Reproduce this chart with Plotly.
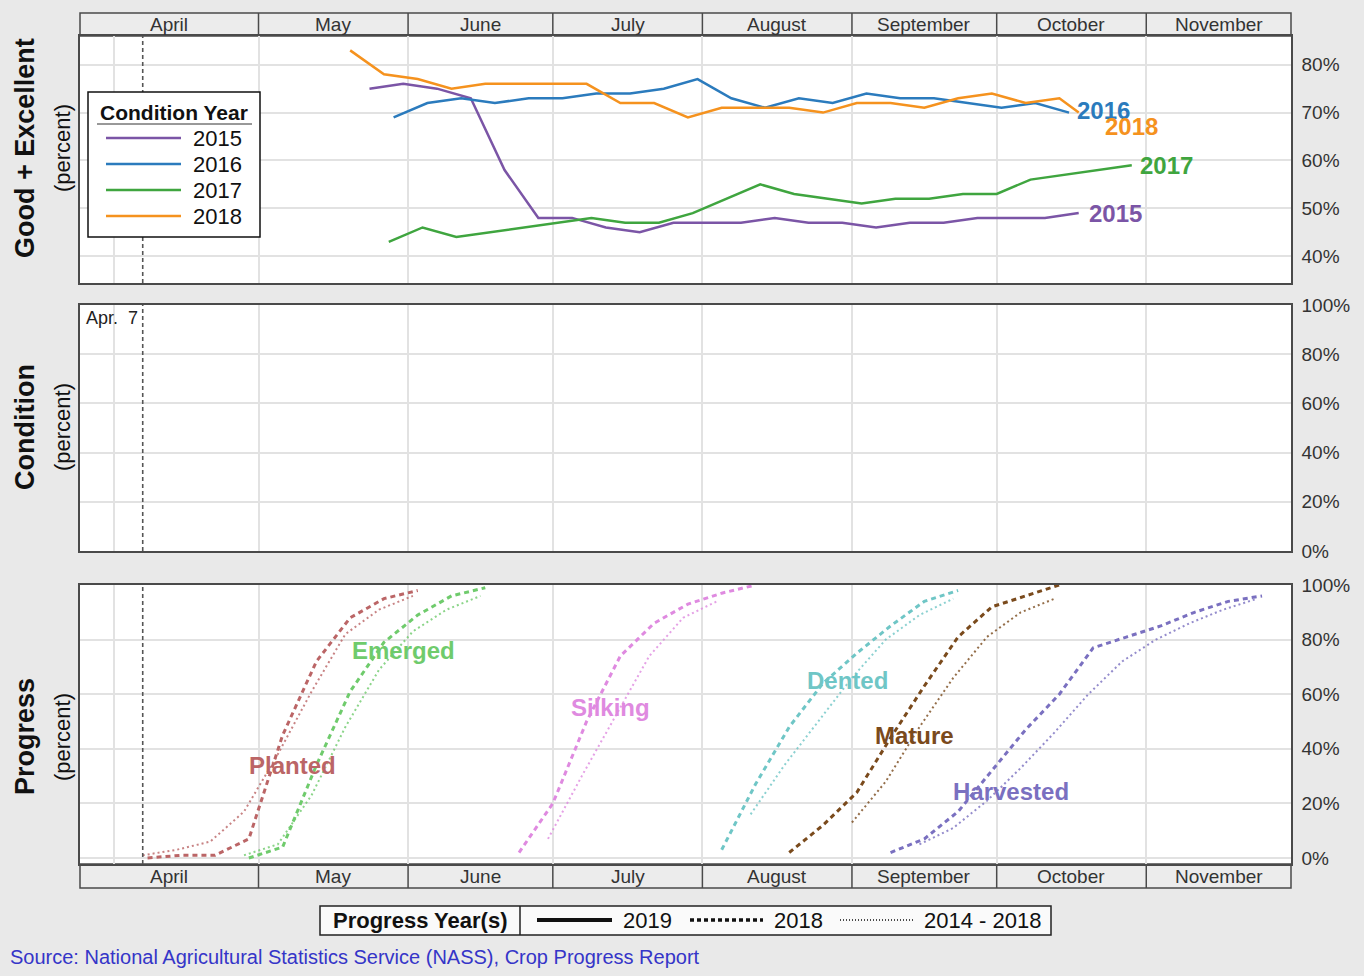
import pandas as pd
import plotly.graph_objects as go

W, H = 1364, 976
FONT = "Liberation Sans, Arial, sans-serif"

# ---------------- axis / calendar data ----------------
X_RANGE = ["2019-03-25", "2019-12-01"]
MONTH_STARTS = ["2019-04-01", "2019-05-01", "2019-06-01", "2019-07-01", "2019-08-01",
                "2019-09-01", "2019-10-01", "2019-11-01", "2019-12-01"]
MONTH_NAMES = ["April", "May", "June", "July", "August", "September", "October", "November"]
CURRENT_WEEK = "2019-04-07"
TOP_TICKS = [40, 50, 60, 70, 80]
PCT_TICKS = [0, 20, 40, 60, 80, 100]

# ---------------- condition data (good + excellent, %) ----------------
cond_2015_dates = ["2019-05-24", "2019-05-31", "2019-06-07", "2019-06-14", "2019-06-21", "2019-06-28",
                   "2019-07-05", "2019-07-12", "2019-07-19", "2019-07-26", "2019-08-02", "2019-08-09",
                   "2019-08-16", "2019-08-23", "2019-08-30", "2019-09-06", "2019-09-13", "2019-09-20",
                   "2019-09-27", "2019-10-04", "2019-10-11", "2019-10-18"]
cond_2015_vals = [75, 76, 75, 73, 58, 48, 48, 46, 45, 47, 47, 47, 48, 47, 47, 46, 47, 47, 48, 48, 48, 49]

cond_2016_dates = ["2019-05-29", "2019-06-05", "2019-06-12", "2019-06-19", "2019-06-26", "2019-07-03",
                   "2019-07-10", "2019-07-17", "2019-07-24", "2019-07-31", "2019-08-07", "2019-08-14",
                   "2019-08-21", "2019-08-28", "2019-09-04", "2019-09-11", "2019-09-18", "2019-09-25",
                   "2019-10-02", "2019-10-09", "2019-10-16"]
cond_2016_vals = [69, 72, 73, 72, 73, 73, 74, 74, 75, 77, 73, 71, 73, 72, 74, 73, 73, 72, 71, 72, 70]

cond_2017_dates = ["2019-05-28", "2019-06-04", "2019-06-11", "2019-06-18", "2019-06-25", "2019-07-02",
                   "2019-07-09", "2019-07-16", "2019-07-23", "2019-07-30", "2019-08-06", "2019-08-13",
                   "2019-08-20", "2019-08-27", "2019-09-03", "2019-09-10", "2019-09-17", "2019-09-24",
                   "2019-10-01", "2019-10-08", "2019-10-15", "2019-10-22", "2019-10-29"]
cond_2017_vals = [43, 46, 44, 45, 46, 47, 48, 47, 47, 49, 52, 55, 53, 52, 51, 52, 52, 53, 53, 56, 57, 58, 59]

cond_2018_dates = ["2019-05-20", "2019-05-27", "2019-06-03", "2019-06-10", "2019-06-17", "2019-06-24",
                   "2019-07-01", "2019-07-08", "2019-07-15", "2019-07-22", "2019-07-29", "2019-08-05",
                   "2019-08-12", "2019-08-19", "2019-08-26", "2019-09-02", "2019-09-09", "2019-09-16",
                   "2019-09-23", "2019-09-30", "2019-10-07", "2019-10-14", "2019-10-18"]
cond_2018_vals = [83, 78, 77, 75, 76, 76, 76, 76, 72, 72, 69, 71, 71, 71, 70, 72, 72, 71, 73, 74, 72, 73, 70]

COND_YEARS = ["2015", "2016", "2017", "2018"]
COND_COLORS = {"2015": "#7b55a6", "2016": "#2b7bbd", "2017": "#3fa53f", "2018": "#f5921e"}

# ---------------- progress data (%) ----------------
planted_2018_dates = ["2019-04-08", "2019-04-15", "2019-04-22", "2019-04-29", "2019-05-06", "2019-05-13",
                      "2019-05-20", "2019-05-27", "2019-06-03"]
planted_2018_vals = [0, 1, 1, 7, 45, 72, 88, 95, 98]
planted_avg_dates = ["2019-04-07", "2019-04-14", "2019-04-21", "2019-04-28", "2019-05-05", "2019-05-12",
                     "2019-05-19", "2019-05-26", "2019-06-02"]
planted_avg_vals = [1, 3, 6, 17, 38, 61, 82, 91, 96]

emerged_2018_dates = ["2019-04-29", "2019-05-06", "2019-05-13", "2019-05-20", "2019-05-27", "2019-06-03",
                      "2019-06-10", "2019-06-17"]
emerged_2018_vals = [0, 4, 34, 61, 79, 89, 96, 99]
emerged_avg_dates = ["2019-04-28", "2019-05-05", "2019-05-12", "2019-05-19", "2019-05-26", "2019-06-02",
                     "2019-06-09", "2019-06-16"]
emerged_avg_vals = [1, 5, 23, 48, 69, 83, 91, 96]

silking_2018_dates = ["2019-06-24", "2019-07-01", "2019-07-08", "2019-07-15", "2019-07-22", "2019-07-29",
                      "2019-08-05", "2019-08-12"]
silking_2018_vals = [2, 20, 50, 74, 86, 93, 97, 100]
silking_avg_dates = ["2019-06-30", "2019-07-07", "2019-07-14", "2019-07-21", "2019-07-28", "2019-08-04"]
silking_avg_vals = [7, 30, 52, 74, 88, 94]

dented_2018_dates = ["2019-08-05", "2019-08-12", "2019-08-19", "2019-08-26", "2019-09-02", "2019-09-09",
                     "2019-09-16", "2019-09-23"]
dented_2018_vals = [3, 27, 48, 64, 75, 85, 94, 98]
dented_avg_dates = ["2019-08-11", "2019-08-18", "2019-08-25", "2019-09-01", "2019-09-08", "2019-09-15",
                    "2019-09-22"]
dented_avg_vals = [16, 34, 50, 66, 80, 89, 95]

mature_2018_dates = ["2019-08-19", "2019-08-26", "2019-09-02", "2019-09-09", "2019-09-16", "2019-09-23",
                     "2019-09-30", "2019-10-07", "2019-10-14"]
mature_2018_vals = [2, 12, 24, 44, 63, 81, 92, 96, 100]
mature_avg_dates = ["2019-09-01", "2019-09-08", "2019-09-15", "2019-09-22", "2019-09-29", "2019-10-06",
                    "2019-10-13"]
mature_avg_vals = [13, 28, 48, 66, 81, 90, 95]

harvested_2018_dates = ["2019-09-09", "2019-09-16", "2019-09-23", "2019-09-30", "2019-10-07", "2019-10-14",
                        "2019-10-21", "2019-10-28", "2019-11-04", "2019-11-11", "2019-11-18", "2019-11-25"]
harvested_2018_vals = [2, 7, 17, 32, 47, 60, 77, 81, 85, 90, 94, 96]
harvested_avg_dates = ["2019-09-15", "2019-09-22", "2019-09-29", "2019-10-06", "2019-10-13", "2019-10-20",
                       "2019-10-27", "2019-11-03", "2019-11-10", "2019-11-17", "2019-11-24"]
harvested_avg_vals = [5, 11, 21, 33, 46, 60, 72, 80, 86, 91, 95]

STAGES = ["Planted", "Emerged", "Silking", "Dented", "Mature", "Harvested"]
STAGE_COLORS = {"Planted": "#bb6566", "Emerged": "#6fcb6c", "Silking": "#df8ae0",
                "Dented": "#6fc6c6", "Mature": "#7a4a1c", "Harvested": "#7a70c0"}
STAGE_2018 = {"Planted": (planted_2018_dates, planted_2018_vals),
              "Emerged": (emerged_2018_dates, emerged_2018_vals),
              "Silking": (silking_2018_dates, silking_2018_vals),
              "Dented": (dented_2018_dates, dented_2018_vals),
              "Mature": (mature_2018_dates, mature_2018_vals),
              "Harvested": (harvested_2018_dates, harvested_2018_vals)}
STAGE_AVG = {"Planted": (planted_avg_dates, planted_avg_vals),
             "Emerged": (emerged_avg_dates, emerged_avg_vals),
             "Silking": (silking_avg_dates, silking_avg_vals),
             "Dented": (dented_avg_dates, dented_avg_vals),
             "Mature": (mature_avg_dates, mature_avg_vals),
             "Harvested": (harvested_avg_dates, harvested_avg_vals)}
# label anchor (date, percent) for each stage name
STAGE_LABEL_POS = {"Planted": ("2019-05-08", 34), "Emerged": ("2019-05-31", 76),
                   "Silking": ("2019-07-13", 55), "Dented": ("2019-08-31", 65),
                   "Mature": ("2019-09-14", 45), "Harvested": ("2019-10-04", 24.5)}


def px(x):
    return x / W


def py(y):
    return 1 - y / H


fig = go.Figure()

# condition traces
cond_data = {"2015": (cond_2015_dates, cond_2015_vals), "2016": (cond_2016_dates, cond_2016_vals),
             "2017": (cond_2017_dates, cond_2017_vals), "2018": (cond_2018_dates, cond_2018_vals)}
for yr in COND_YEARS:
    d, v = cond_data[yr]
    fig.add_trace(go.Scatter(x=d, y=v, mode="lines", name=yr, showlegend=False,
                             line=dict(color=COND_COLORS[yr], width=2.5),
                             xaxis="x", yaxis="y"))

# empty middle panel
fig.add_trace(go.Scatter(x=[], y=[], mode="lines", showlegend=False, xaxis="x2", yaxis="y2"))

# progress traces
for st in STAGES:
    d, v = STAGE_AVG[st]
    fig.add_trace(go.Scatter(x=d, y=v, mode="lines", name=st + " 2014-2018", showlegend=False,
                             line=dict(color=STAGE_COLORS[st], width=2, dash="2px,3px"),
                             opacity=0.8, xaxis="x3", yaxis="y3"))
    d, v = STAGE_2018[st]
    fig.add_trace(go.Scatter(x=d, y=v, mode="lines", name=st + " 2018", showlegend=False,
                             line=dict(color=STAGE_COLORS[st], width=3, dash="5px,4px"),
                             xaxis="x3", yaxis="y3"))

GRID = "#e2e2e2"
BORDER = "#4a4a4a"
xcommon = dict(type="date", range=X_RANGE, tickvals=MONTH_STARTS[:-1], showticklabels=False,
               showgrid=True, gridcolor=GRID, gridwidth=1.5, showline=True, linecolor=BORDER,
               linewidth=1.5, mirror=True, zeroline=False, ticks="", domain=[px(80), px(1291)])
ycommon = dict(side="right", tickfont=dict(size=19, color="#333", family=FONT),
               showgrid=True, gridcolor=GRID, gridwidth=1.5, showline=True, linecolor=BORDER,
               linewidth=1.5, mirror=True, zeroline=False, ticks="", ticklabelstandoff=5,
               automargin=False)

fig.update_layout(
    width=W, height=H, margin=dict(l=0, r=0, t=0, b=0, pad=0, autoexpand=False),
    paper_bgcolor="#e9e9e9", plot_bgcolor="white",
    font=dict(family=FONT, color="#222"),
    showlegend=False,
    xaxis=dict(xcommon, anchor="y"),
    xaxis2=dict(xcommon, anchor="y2", matches="x"),
    xaxis3=dict(xcommon, anchor="y3", matches="x"),
    yaxis=dict(ycommon, anchor="x", domain=[py(283), py(36)], range=[34.4, 86],
               tickvals=TOP_TICKS, ticktext=["%d%%" % t for t in TOP_TICKS]),
    yaxis2=dict(ycommon, anchor="x2", domain=[py(551), py(305)], range=[0, 100],
                tickvals=PCT_TICKS, ticktext=["%d%%" % t for t in PCT_TICKS]),
    yaxis3=dict(ycommon, anchor="x3", domain=[py(864), py(585)], range=[-2.2, 100],
                tickvals=PCT_TICKS, ticktext=["%d%%" % t for t in PCT_TICKS]),
)

shapes = []
annotations = []

# current week dashed line in all three panels
for xa, ya in [("x", "y"), ("x2", "y2"), ("x3", "y3")]:
    shapes.append(dict(type="line", xref=xa, yref=ya + " domain", x0=CURRENT_WEEK, x1=CURRENT_WEEK,
                       y0=0, y1=1, line=dict(color="#555", width=1.6, dash="4px,3px")))
annotations.append(dict(text="Apr.  7", xref="x2", yref="paper", x=CURRENT_WEEK, y=py(318),
                        xanchor="right", yanchor="middle", xshift=-3, showarrow=False,
                        font=dict(size=18, color="#222", family=FONT)))

# month strips (top and bottom)
r0 = pd.Timestamp(X_RANGE[0])
for (top, bot) in [(13, 36), (864, 888)]:
    shapes.append(dict(type="rect", xref="paper", yref="paper", x0=px(80), x1=px(1291),
                       y0=py(bot), y1=py(top), fillcolor="#ececec", line=dict(color=BORDER, width=1.5),
                       layer="below"))
    for ms in MONTH_STARTS[1:-1]:
        shapes.append(dict(type="line", xref="x", yref="paper", x0=ms, x1=ms, y0=py(bot), y1=py(top),
                           line=dict(color=BORDER, width=1.5)))
    for i, name in enumerate(MONTH_NAMES):
        s = r0 if i == 0 else pd.Timestamp(MONTH_STARTS[i])
        e = pd.Timestamp(MONTH_STARTS[i + 1])
        mid = s + (e - s) / 2
        annotations.append(dict(text=name, xref="x", yref="paper", x=mid, y=py((top + bot) / 2),
                                xanchor="center", yanchor="middle", showarrow=False,
                                font=dict(size=19, color="#333", family=FONT)))

# condition year labels at line ends
label_offsets = {"2015": (8, 0), "2016": (6, 2), "2017": (6, 0), "2018": (24, -14)}
for yr in COND_YEARS:
    d, v = cond_data[yr]
    dx, dy = label_offsets[yr]
    annotations.append(dict(text="<b>%s</b>" % yr, xref="x", yref="y", x=d[-1], y=v[-1],
                            xanchor="left", yanchor="middle", xshift=dx, yshift=dy, showarrow=False,
                            font=dict(size=24, color=COND_COLORS[yr], family=FONT)))

# stage labels
for st in STAGES:
    lx, ly = STAGE_LABEL_POS[st]
    annotations.append(dict(text="<b>%s</b>" % st, xref="x3", yref="y3", x=lx, y=ly,
                            xanchor="center", yanchor="middle", showarrow=False,
                            font=dict(size=24, color=STAGE_COLORS[st], family=FONT)))

# condition legend (top panel)
shapes.append(dict(type="rect", xref="paper", yref="paper", x0=px(88), x1=px(260), y0=py(237), y1=py(92),
                   fillcolor="white", line=dict(color="#111", width=1.5)))
annotations.append(dict(text="<b>Condition Year</b>", xref="paper", yref="paper", x=px(174), y=py(112),
                        xanchor="center", yanchor="middle", showarrow=False,
                        font=dict(size=21, color="#111", family=FONT)))
shapes.append(dict(type="line", xref="paper", yref="paper", x0=px(97), x1=px(252), y0=py(124), y1=py(124),
                   line=dict(color="#333", width=1)))
for i, yr in enumerate(COND_YEARS):
    yy = 138 + 26 * i
    shapes.append(dict(type="line", xref="paper", yref="paper", x0=px(106), x1=px(181), y0=py(yy), y1=py(yy),
                       line=dict(color=COND_COLORS[yr], width=2.5)))
    annotations.append(dict(text=yr, xref="paper", yref="paper", x=px(191), y=py(yy), xanchor="left",
                            yanchor="middle", showarrow=False, font=dict(size=22, color="#111", family=FONT)))

# axis titles on the left
for title, ymid in [("Good + Excellent", 148), ("Condition", 427), ("Progress", 737)]:
    annotations.append(dict(text="<b>%s</b>" % title, xref="paper", yref="paper", x=px(25), y=py(ymid),
                            xanchor="center", yanchor="middle", textangle=-90, showarrow=False,
                            font=dict(size=27, color="#111", family=FONT)))
    annotations.append(dict(text="(percent)", xref="paper", yref="paper", x=px(62), y=py(ymid),
                            xanchor="center", yanchor="middle", textangle=-90, showarrow=False,
                            font=dict(size=22, color="#111", family=FONT)))

# progress-year legend (bottom)
shapes.append(dict(type="rect", xref="paper", yref="paper", x0=px(320), x1=px(1051), y0=py(935), y1=py(906),
                   fillcolor="#fafafa", line=dict(color="#222", width=1.5)))
shapes.append(dict(type="line", xref="paper", yref="paper", x0=px(520), x1=px(520), y0=py(935), y1=py(906),
                   line=dict(color="#222", width=1.5)))
annotations.append(dict(text="<b>Progress Year(s)</b>", xref="paper", yref="paper", x=px(420), y=py(920),
                        xanchor="center", yanchor="middle", showarrow=False,
                        font=dict(size=22, color="#111", family=FONT)))
legend_items = [("2019", 537, 612, 621, "solid", 4), ("2018", 690, 763, 772, "4px,3px", 3.5),
                ("2014 - 2018", 840, 913, 922, "1px,2px", 1.5)]
for lab, a, b, t, dash, wdt in legend_items:
    shapes.append(dict(type="line", xref="paper", yref="paper", x0=px(a), x1=px(b), y0=py(920), y1=py(920),
                       line=dict(color="#111", width=wdt, dash=dash)))
    annotations.append(dict(text=lab, xref="paper", yref="paper", x=px(t), y=py(920), xanchor="left",
                            yanchor="middle", showarrow=False, font=dict(size=22, color="#111", family=FONT)))

# source
annotations.append(dict(text="Source: National Agricultural Statistics Service (NASS), Crop Progress Report",
                        xref="paper", yref="paper", x=px(8), y=py(957), xanchor="left", yanchor="middle",
                        showarrow=False, font=dict(size=20, color="#3535c8", family=FONT)))

fig.update_layout(shapes=shapes, annotations=annotations)
fig.write_html("out.html", config={"displayModeBar": False},
               post_script="document.body.style.margin='0';document.body.style.overflow='hidden';"
                           "document.documentElement.style.overflow='hidden';")
